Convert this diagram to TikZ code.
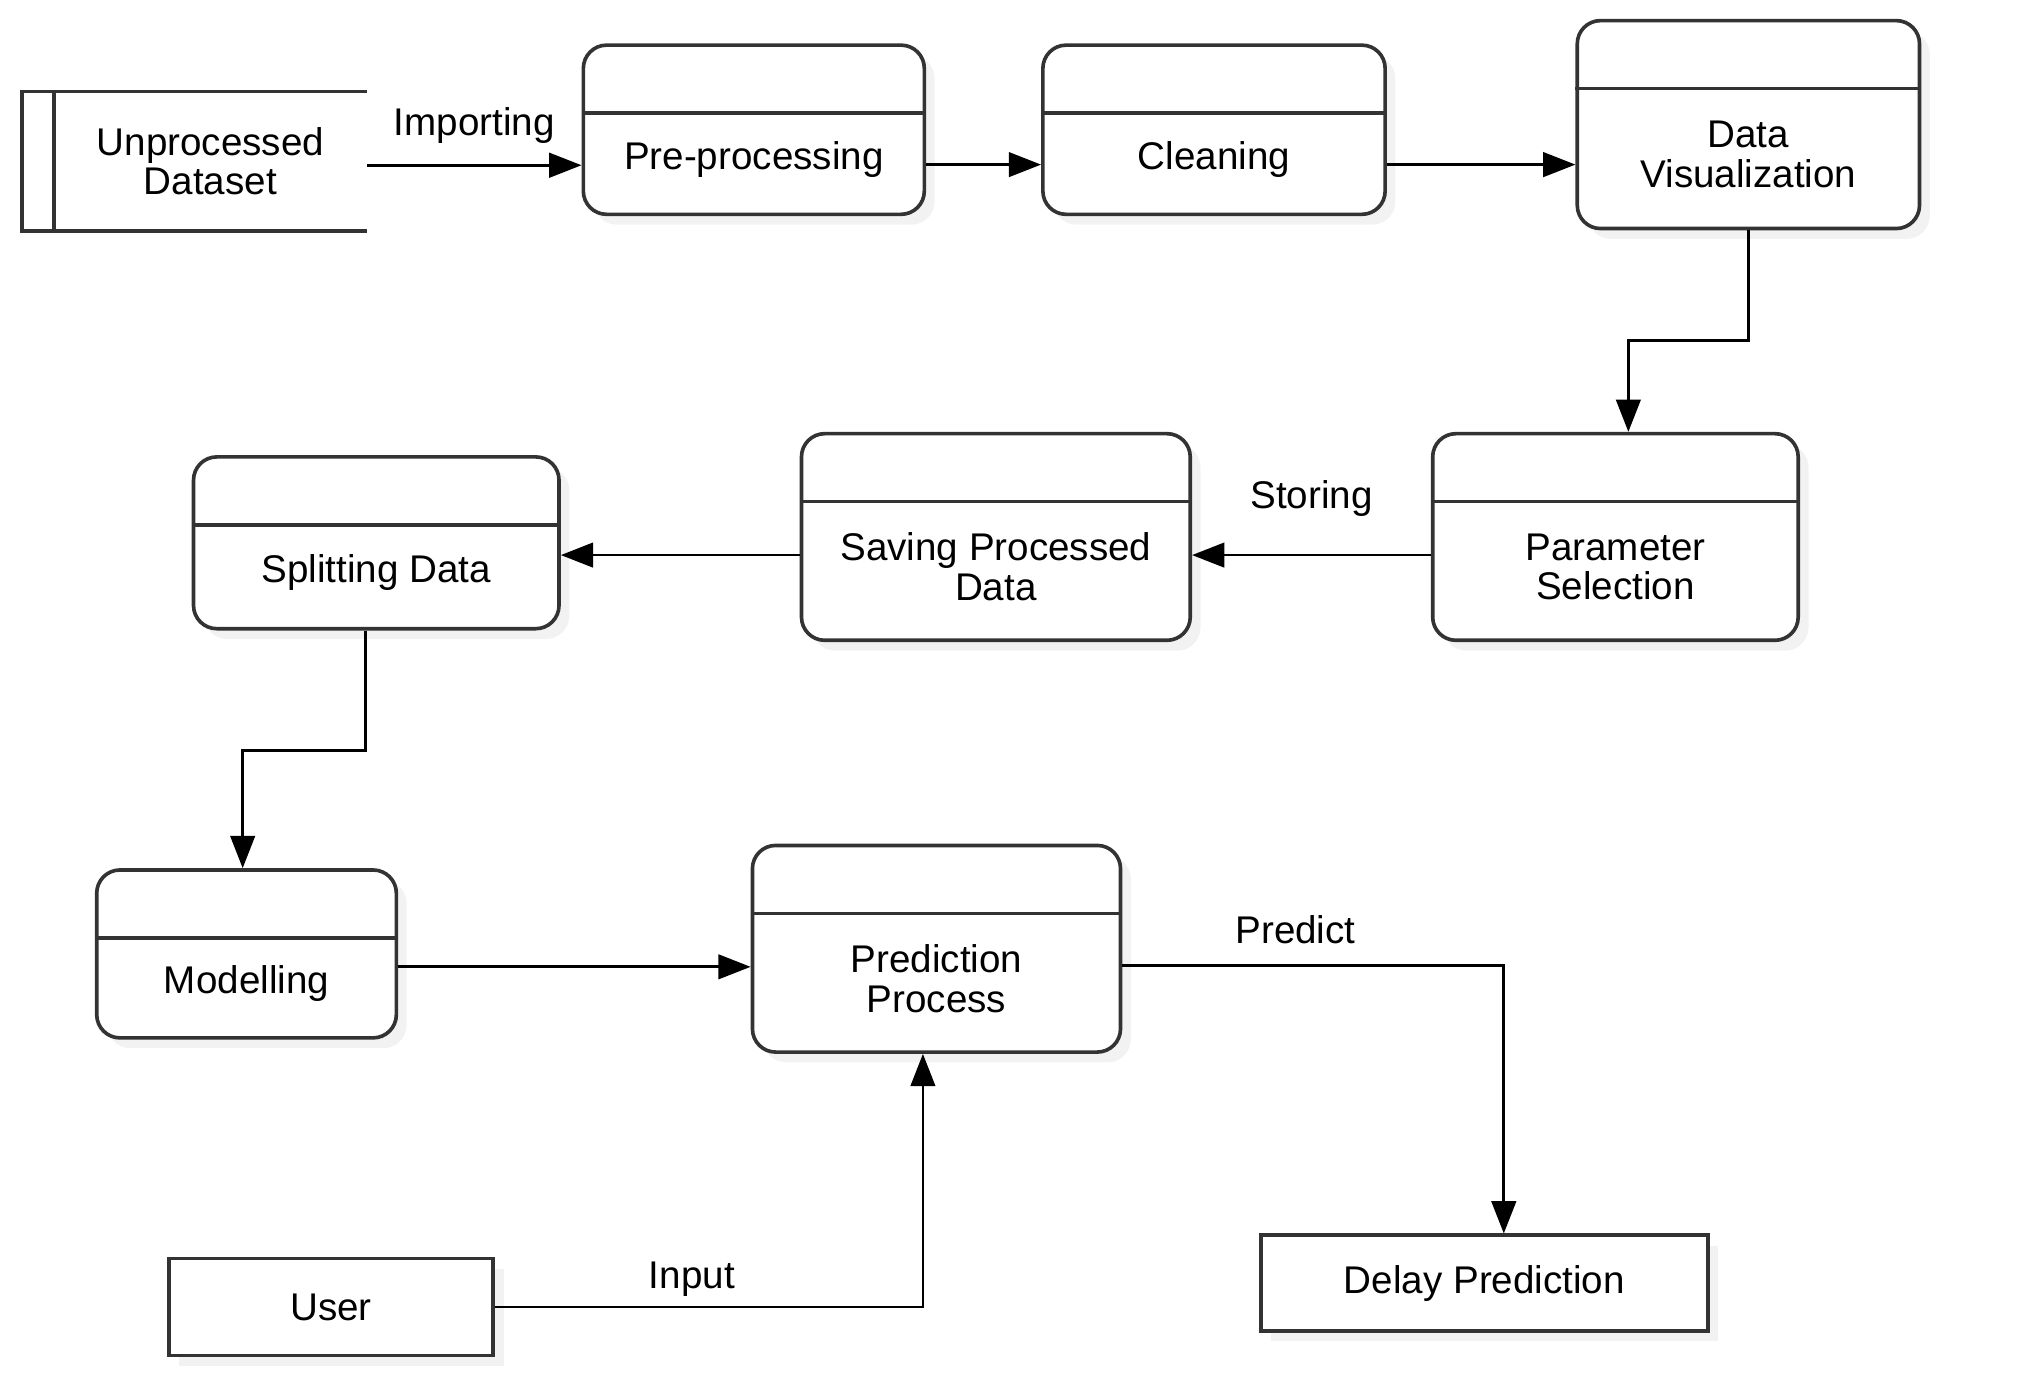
\documentclass[tikz,border=0pt]{standalone}
\usepackage{fontspec}
\setmainfont{Liberation Sans}
\usetikzlibrary{arrows.meta,shadows}

\begin{document}
\begin{tikzpicture}[x=0.01cm,y=-0.01cm,
	font=\fontsize{8.5}{8.7}\selectfont,
	>={Triangle[length=2.5mm,width=1.9mm]},
	line width=0.6pt,
	proc/.style={draw=black!80, fill=white, line width=0.8pt, rounded corners=0.18cm,
		drop shadow={shadow xshift=0.08cm, shadow yshift=-0.08cm, opacity=0.1}},
	ext/.style={draw=black!80, fill=white, line width=0.8pt,
		drop shadow={shadow xshift=0.08cm, shadow yshift=-0.08cm, opacity=0.1}},
	store/.style={fill=white, align=center, minimum width=2.4cm, minimum height=1.06cm},
	txt/.style={yshift=-0.23cm, align=center}]
	\useasboundingbox (0,0) rectangle (1568,1072);
					\node[store] (data) at (163,125) {Unprocessed\\Dataset};
					\node[proc, minimum width=2.64cm, minimum height=1.31cm, label={[txt]center:Pre-processing}] (pre) at (584,100.5) {};
					\node[proc, minimum width=2.65cm, minimum height=1.31cm, label={[txt]center:Cleaning}] (clean) at (940.5,100.5) {};
					\node[proc, minimum width=2.65cm, minimum height=1.61cm, label={[txt]center:Data\\Visualization}] (vis) at (1354.5,96.5) {};
					\node[proc, minimum width=2.83cm, minimum height=1.6cm, label={[txt]center:Parameter\\Selection}] (param) at (1251.5,416) {};
					\node[proc, minimum width=3.01cm, minimum height=1.6cm, label={[txt]center:Saving Processed\\Data}] (save) at (771.5,416) {};
					\node[proc, minimum width=2.83cm, minimum height=1.33cm, label={[txt]center:Splitting Data}] (split) at (291.5,420.5) {};
					\node[proc, minimum width=2.32cm, minimum height=1.3cm, label={[txt]center:Modelling}] (model) at (191,739) {};
					\node[proc, minimum width=2.85cm, minimum height=1.6cm, label={[txt]center:Prediction\\Process}] (predict) at (725.5,735) {};
					\node[ext, minimum width=3.46cm, minimum height=0.74cm] (delay) at (1150,994) {Delay Prediction};
					\node[ext, minimum width=2.51cm, minimum height=0.75cm] (user) at (256.5,1012.5) {User};
					\draw[draw=black!80, line width=0.8pt] (data.north east) -- ([xshift=-0.25cm]data.north west) -- ([xshift=-0.25cm]data.south west) -- (data.south east);
					\draw[draw=black!80, line width=0.8pt] (data.north west) -- (data.south west);
					\foreach \n in {pre,clean,vis,param,save,split,model,predict}
						\draw[draw=black!80, line width=0.8pt] ([yshift=-0.54cm]\n.north west) -- ([yshift=-0.54cm]\n.north east);
					\draw[->] ([yshift=-0.03cm]data.east) -- node[above=0.04cm] {Importing} ([yshift=-0.03cm]data.east -| pre.west);
					\draw[->] ([yshift=-0.27cm]pre.east) -- ([yshift=-0.27cm]clean.west);
					\draw[->] ([yshift=-0.27cm]clean.east) -- ([yshift=-0.27cm]clean.east -| vis.west);
					\draw[->] (vis.south) -- ++(0,-0.85cm) -| ([xshift=0.1cm]param.north);
					\draw[->] ([yshift=-0.14cm]param.west) -- node[above=0.17cm] {Storing} ([yshift=-0.14cm]save.east);
					\draw[->] ([yshift=-0.14cm]save.west) -- ([yshift=-0.14cm]save.west -| split.east);
					\draw[->] ([xshift=-0.085cm]split.south) -- ++(0,-0.93cm) -| ([xshift=-0.03cm]model.north);
					\draw[->] ([yshift=-0.1cm]model.east) -- ([yshift=-0.1cm]model.east -| predict.west);
					\draw[->] ([yshift=-0.13cm]predict.east) -| node[pos=0.227, above=0.04cm] {Predict} ([xshift=0.15cm]delay.north);
					\draw[->] (user.east) -| node[pos=0.23, above=-0.05cm] {Input} ([xshift=-0.105cm]predict.south);
				\end{tikzpicture}
\end{document}
